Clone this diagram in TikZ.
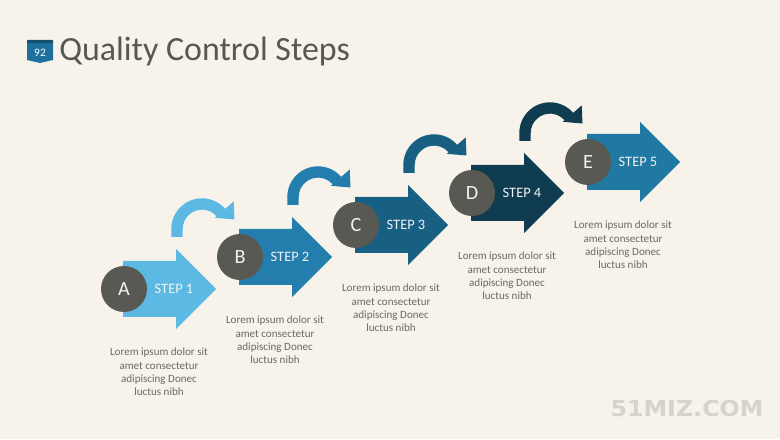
\documentclass[tikz,border=0pt]{standalone}
\usepackage{fontspec}
\setmainfont{Carlito}
\newfontfamily\markfont{DejaVu Sans}
\usepackage{tikz}
\definecolor{Cream_bg}{RGB}{247, 243, 234}
\definecolor{Step_A}{RGB}{92, 185, 227}
\definecolor{Step_B}{RGB}{35, 126, 173}
\definecolor{Step_C}{RGB}{23, 96, 131}
\definecolor{Step_D}{RGB}{15, 60, 80}
\definecolor{Step_E}{RGB}{31, 121, 163}
\definecolor{Dot_grey}{RGB}{88, 89, 83}
\definecolor{Title_grey}{RGB}{86, 88, 82}
\definecolor{Text_grey}{RGB}{105, 105, 102}
\definecolor{Badge_blue}{RGB}{30, 112, 156}
\definecolor{Badge_top}{RGB}{20, 80, 112}
\definecolor{Mark_grey}{RGB}{214, 211, 202}
\tikzset{
  letter/.style={circle, fill=Dot_grey, minimum size=46*0.02cm, inner sep=0pt,
    text=white!92!Dot_grey, font=\fontsize{11.5}{12}\selectfont},
  steplabel/.style={text=white!95!black, inner sep=0pt, font=\fontsize{8.2}{10}\selectfont},
  lorem/.style={text=Text_grey, align=center, inner sep=0pt, font=\fontsize{6.3}{7.55}\selectfont}
}

\begin{document}
\begin{tikzpicture}[x=0.02cm, y=0.02cm]
    %% Background
    \fill[Cream_bg] (0,0) rectangle (780,439);

    %% Title
    \fill[Badge_blue] (27,399) -- (53,399) -- (53,379) -- (40,376) -- (27,379) -- cycle;
    \fill[Badge_top] (27,399) rectangle (53,396);
    \node[text=white, font=\fontsize{6.5}{7}\selectfont] (badge) at (40,386.5) {92};
    \node[anchor=west, inner sep=0pt, text=Title_grey, font=\fontsize{19.3}{22}\selectfont] (title) at (59,388) {Quality Control Steps};

    %% Step A
    \begin{scope}[shift={(124,150)}]
    \fill[Step_A] (47.3,52) -- (47.3,60) arc[start angle=180, end angle=41, radius=30.7]
        -- (109.7,87.6) -- (110.5,69.5) -- (90.8,71.2) -- (92.6,72.7)
        arc[start angle=41, end angle=180, radius=19.3] -- (58.7,52) -- cycle;
    \fill[Step_A] (-1,28) -- (52,28) -- (52,40) -- (92,0) -- (52,-40) -- (52,-28) -- (-1,-28) -- cycle;
    \node[letter] (a) at (0,0) {A};
    \node[steplabel] (stepA) at (50,0) {STEP 1};
    \node[lorem] (textA) at (35,-83) {Lorem ipsum dolor sit\\amet consectetur\\adipiscing Donec\\luctus nibh};
    \end{scope}

    %% Step B
    \begin{scope}[shift={(240,182)}]
    \fill[Step_B] (47.3,52) -- (47.3,60) arc[start angle=180, end angle=41, radius=30.7]
        -- (109.7,87.6) -- (110.5,69.5) -- (90.8,71.2) -- (92.6,72.7)
        arc[start angle=41, end angle=180, radius=19.3] -- (58.7,52) -- cycle;
    \fill[Step_B] (-1,28) -- (52,28) -- (52,40) -- (92,0) -- (52,-40) -- (52,-28) -- (-1,-28) -- cycle;
    \node[letter] (b) at (0,0) {B};
    \node[steplabel] (stepB) at (50,0) {STEP 2};
    \node[lorem] (textB) at (35,-83) {Lorem ipsum dolor sit\\amet consectetur\\adipiscing Donec\\luctus nibh};
    \end{scope}

    %% Step C
    \begin{scope}[shift={(356,214)}]
    \fill[Step_C] (47.3,52) -- (47.3,60) arc[start angle=180, end angle=41, radius=30.7]
        -- (109.7,87.6) -- (110.5,69.5) -- (90.8,71.2) -- (92.6,72.7)
        arc[start angle=41, end angle=180, radius=19.3] -- (58.7,52) -- cycle;
    \fill[Step_C] (-1,28) -- (52,28) -- (52,40) -- (92,0) -- (52,-40) -- (52,-28) -- (-1,-28) -- cycle;
    \node[letter] (c) at (0,0) {C};
    \node[steplabel] (stepC) at (50,0) {STEP 3};
    \node[lorem] (textC) at (35,-83) {Lorem ipsum dolor sit\\amet consectetur\\adipiscing Donec\\luctus nibh};
    \end{scope}

    %% Step D
    \begin{scope}[shift={(472,246)}]
    \fill[Step_D] (47.3,52) -- (47.3,60) arc[start angle=180, end angle=41, radius=30.7]
        -- (109.7,87.6) -- (110.5,69.5) -- (90.8,71.2) -- (92.6,72.7)
        arc[start angle=41, end angle=180, radius=19.3] -- (58.7,52) -- cycle;
    \fill[Step_D] (-1,28) -- (52,28) -- (52,40) -- (92,0) -- (52,-40) -- (52,-28) -- (-1,-28) -- cycle;
    \node[letter] (d) at (0,0) {D};
    \node[steplabel] (stepD) at (50,0) {STEP 4};
    \node[lorem] (textD) at (35,-83) {Lorem ipsum dolor sit\\amet consectetur\\adipiscing Donec\\luctus nibh};
    \end{scope}

    %% Step E
    \begin{scope}[shift={(588,277)}]
    \fill[Step_E] (-1,28) -- (52,28) -- (52,40) -- (92,0) -- (52,-40) -- (52,-28) -- (-1,-28) -- cycle;
    \node[letter] (e) at (0,0) {E};
    \node[steplabel] (stepE) at (50,0) {STEP 5};
    \node[lorem] (textE) at (35,-83) {Lorem ipsum dolor sit\\amet consectetur\\adipiscing Donec\\luctus nibh};
    \end{scope}

    %% Watermark
    \node[text=Mark_grey, inner sep=0pt, xscale=1.08, font=\markfont\bfseries\fontsize{12.5}{14}\selectfont] (mark) at (687,30) {51MIZ.COM};
\end{tikzpicture}
\end{document}
